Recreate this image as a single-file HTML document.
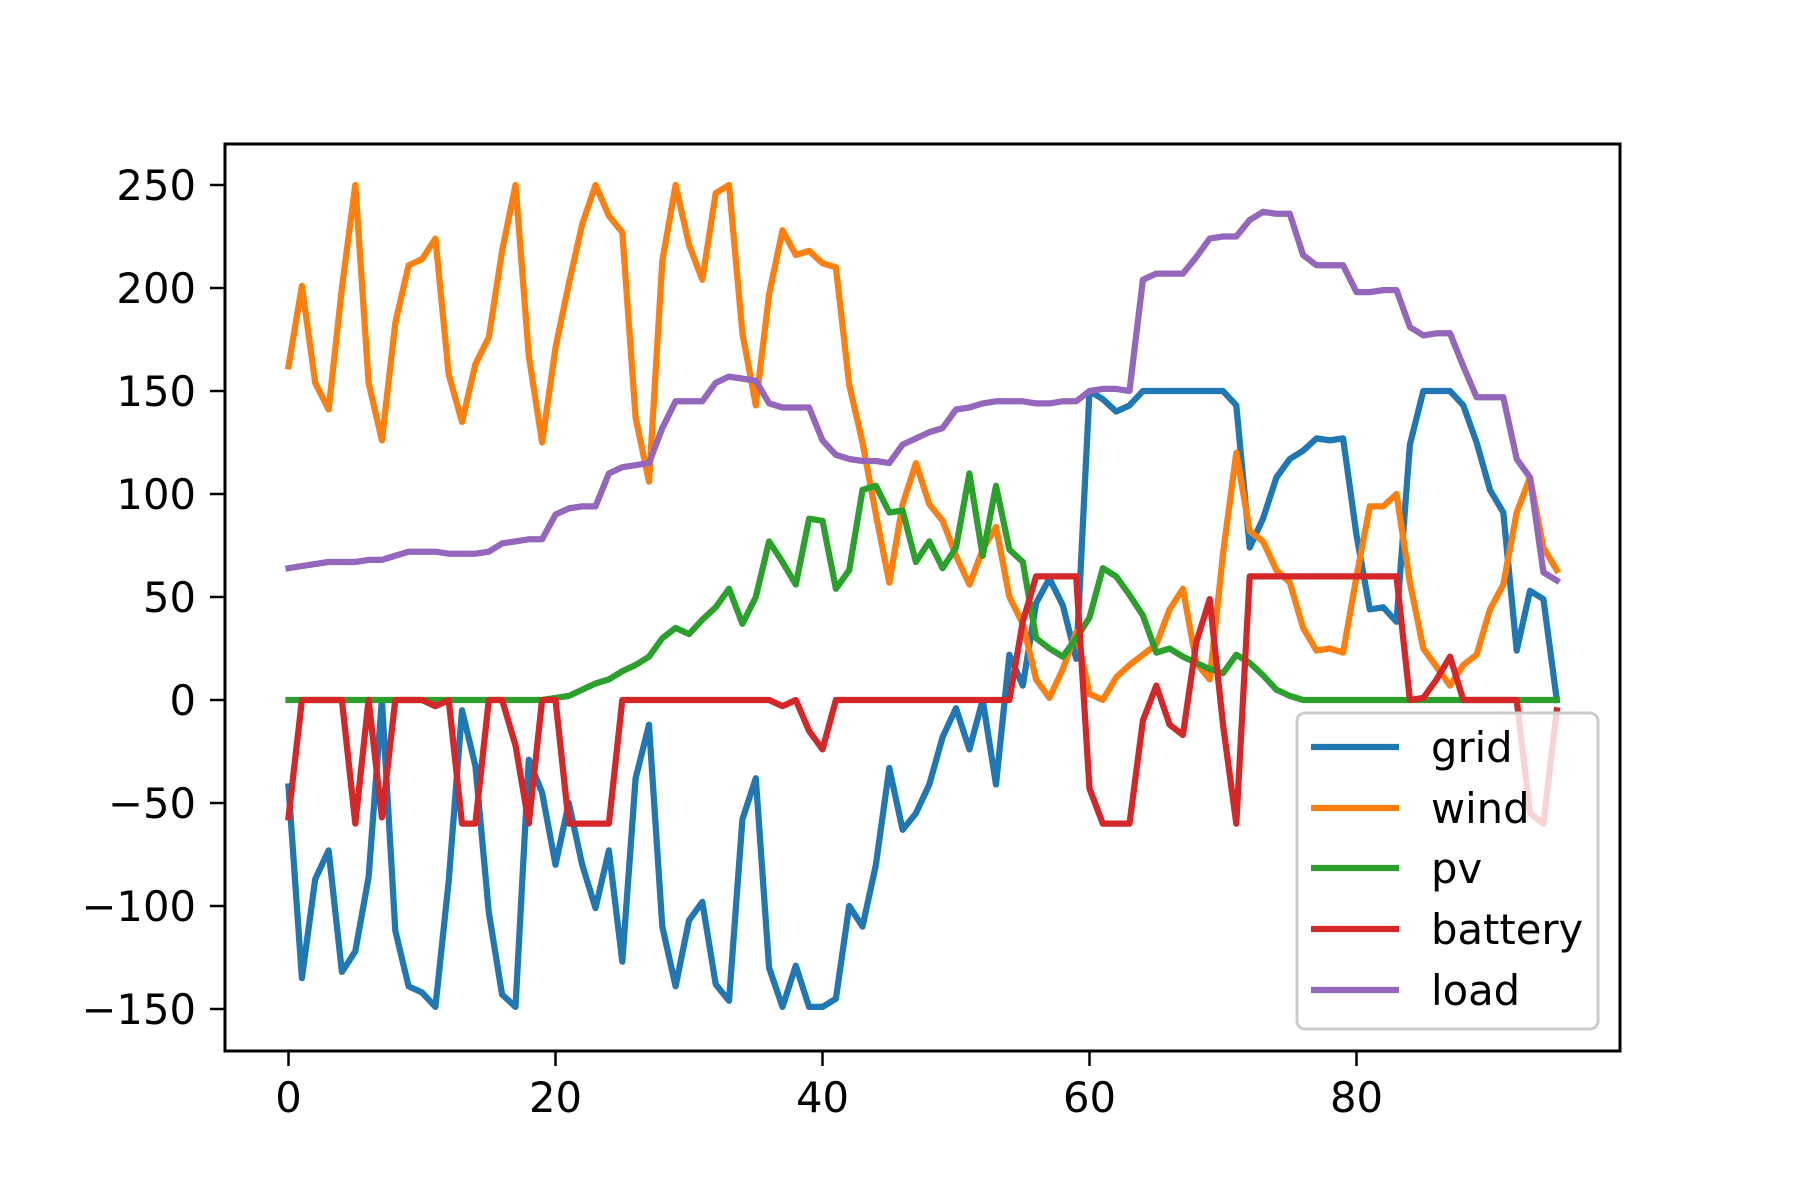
<!DOCTYPE html>
<html><head><meta charset="utf-8"><style>html,body{margin:0;padding:0;background:#fff}svg{display:block}text{font-family:"DejaVu Sans","Liberation Sans",sans-serif;font-size:41.7px;fill:#000}</style></head>
<body>
<svg id="s" width="1800" height="1200" viewBox="0 0 1800 1200" xmlns="http://www.w3.org/2000/svg">
<rect width="1800" height="1200" fill="#fff"/>
<g id="lines" fill="none" stroke-width="6.25" stroke-linejoin="round" stroke-linecap="square"></g>
<rect x="225" y="144" width="1395" height="907" fill="none" stroke="#000" stroke-width="3"/>
<g stroke="#000" stroke-width="2.5">
<line x1="288.5" y1="1051" x2="288.5" y2="1066"/><line x1="555.5" y1="1051" x2="555.5" y2="1066"/><line x1="822.5" y1="1051" x2="822.5" y2="1066"/><line x1="1089.5" y1="1051" x2="1089.5" y2="1066"/><line x1="1356.5" y1="1051" x2="1356.5" y2="1066"/>
<line x1="210" y1="185" x2="225" y2="185"/><line x1="210" y1="288" x2="225" y2="288"/><line x1="210" y1="391" x2="225" y2="391"/><line x1="210" y1="494" x2="225" y2="494"/><line x1="210" y1="597" x2="225" y2="597"/><line x1="210" y1="700" x2="225" y2="700"/><line x1="210" y1="803" x2="225" y2="803"/><line x1="210" y1="906" x2="225" y2="906"/><line x1="210" y1="1009" x2="225" y2="1009"/>
</g>
<g text-anchor="middle">
<text x="288.5" y="1112">0</text><text x="555.5" y="1112">20</text><text x="822.5" y="1112">40</text><text x="1089.5" y="1112">60</text><text x="1356.5" y="1112">80</text>
</g>
<g text-anchor="end">
<text x="196" y="200">250</text><text x="196" y="303">200</text><text x="196" y="406">150</text><text x="196" y="509">100</text><text x="196" y="612">50</text><text x="196" y="715">0</text><text x="196" y="818">−50</text><text x="196" y="921">−100</text><text x="196" y="1024">−150</text>
</g>
<rect x="1297" y="713" width="301" height="316" rx="8" fill="#fff" fill-opacity="0.8" stroke="#ccc" stroke-width="3"/>
<g stroke-width="6.25">
<line x1="1311" y1="747" x2="1399" y2="747" stroke="#1f77b4"/>
<line x1="1311" y1="808" x2="1399" y2="808" stroke="#ff7f0e"/>
<line x1="1311" y1="868" x2="1399" y2="868" stroke="#2ca02c"/>
<line x1="1311" y1="929" x2="1399" y2="929" stroke="#d62728"/>
<line x1="1311" y1="990" x2="1399" y2="990" stroke="#9467bd"/>
</g>
<text x="1431" y="762">grid</text><text x="1431" y="823">wind</text><text x="1431" y="883">pv</text><text x="1431" y="944">battery</text><text x="1431" y="1005">load</text>
</svg>
<script>
var grid=[-42,-135,-87,-73,-132,-122,-86,0,-112,-139,-142,-149,-88,-5,-32,-103,-143,-149,-29,-45,-80,-50,-80,-101,-73,-127,-38,-12,-110,-139,-107,-98,-138,-146,-58,-38,-130,-149,-129,-149,-149,-145,-100,-110,-80,-33,-63,-55,-41,-18,-4,-24,0,-41,22,7,47,59,46,20,150,146,140,143,150,150,150,150,150,150,150,143,74,88,108,117,121,127,126,127,80,44,45,38,124,150,150,150,143,125,102,91,24,53,49,0];
var wind=[162,201,154,141,200,250,154,126,183,211,214,224,158,135,163,176,218,250,167,125,171,202,231,250,235,227,137,106,213,250,221,204,246,250,178,143,197,228,216,218,212,210,153,125,90,57,95,115,95,87,70,56,73,84,50,37,10,1,15,33,3,0,11,17,22,27,44,54,18,10,71,120,82,77,63,57,35,24,25,23,60,94,94,100,57,25,16,7,17,22,44,56,91,108,74,63];
var pv=[];for(var i=0;i<20;i++)pv.push(0);pv=pv.concat([1,2,5,8,10,14,17,21,30,35,32,39,45,54,37,50,77,67,56,88,87,54,63,102,104,91,92,67,77,64,74,110,70,104,73,67,30,25,21,30,40,64,60,51,41,23,25,21,18,15,13,22,18,12,5,2]);while(pv.length<96)pv.push(0);
var bat=[-57,0,0,0,0,-60,0,-57,0,0,0,-3,0,-60,-60,0,0,-22,-60,0,0,-60,-60,-60,-60,0,0,0,0,0,0,0,0,0,0,0,0,-3,0,-15,-24,0,0,0,0,0,0,0,0,0,0,0,0,0,0,38,60,60,60,60,-43,-60,-60,-60,-10,7,-12,-17,28,49,-12,-60,60,60,60,60,60,60,60,60,60,60,60,60,0,1,10,21,0,0,0,0,0,-55,-60,-5];
var load=[64,65,66,67,67,67,68,68,70,72,72,72,71,71,71,72,76,77,78,78,90,93,94,94,110,113,114,115,132,145,145,145,154,157,156,155,144,142,142,142,126,119,117,116,116,115,124,127,130,132,141,142,144,145,145,145,144,144,145,145,150,151,151,150,204,207,207,207,215,224,225,225,233,237,236,236,216,211,211,211,198,198,199,199,181,177,178,178,162,147,147,147,117,108,62,58];
var g=document.getElementById('lines');
[[grid,'#1f77b4'],[wind,'#ff7f0e'],[pv,'#2ca02c'],[bat,'#d62728'],[load,'#9467bd']].forEach(function(s){
var p=s[0].map(function(v,i){return (288.5+13.35*i).toFixed(1)+','+(700-2.06*v).toFixed(1)}).join(' ');
var e=document.createElementNS('http://www.w3.org/2000/svg','polyline');e.setAttribute('points',p);e.setAttribute('stroke',s[1]);g.appendChild(e);});
</script>
</body></html>
